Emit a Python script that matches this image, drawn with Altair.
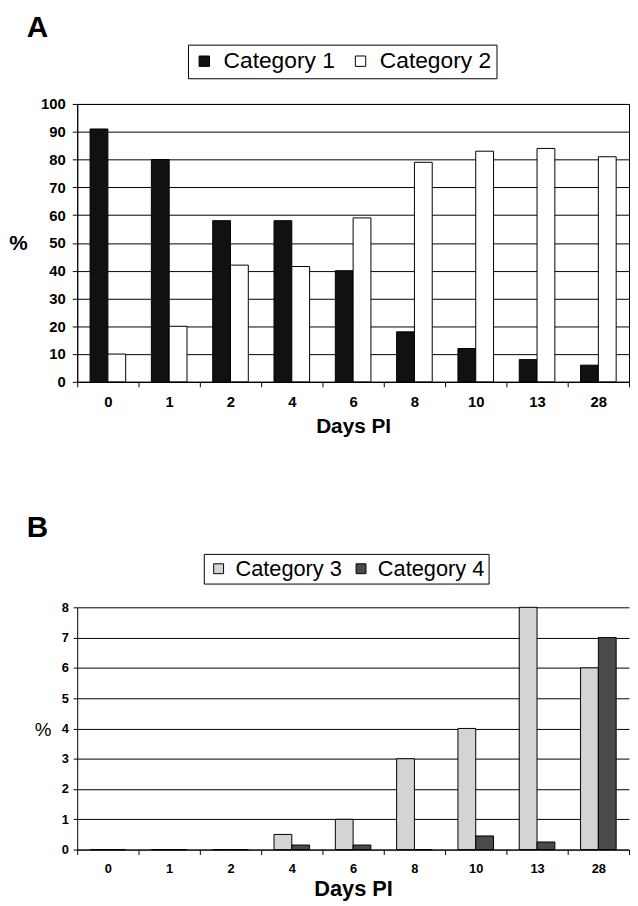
import altair as alt
import pandas as pd

# ---------------- data ----------------
days = ["0", "1", "2", "4", "6", "8", "10", "13", "28"]
series_a = ["Category 1", "Category 2"]
cat1 = [91, 80, 58, 58, 40, 18, 12, 8, 6]
cat2 = [10, 20, 42, 41.5, 59, 79, 83, 84, 81]
series_b = ["Category 3", "Category 4"]
cat3 = [0, 0, 0, 0.5, 1, 3, 4, 8, 6]
cat4 = [0, 0, 0, 0.15, 0.15, 0, 0.45, 0.25, 7]
ticks_a = list(range(0, 101, 10))
ticks_b = list(range(0, 9))

dfa = pd.DataFrame({
    "day": days * 2,
    "series": [series_a[0]] * len(days) + [series_a[1]] * len(days),
    "value": cat1 + cat2,
})
dfb = pd.DataFrame({
    "day": days * 2,
    "series": [series_b[0]] * len(days) + [series_b[1]] * len(days),
    "value": cat3 + cat4,
})

FONT = "Liberation Sans"
W = 558

# ---------------- panel A ----------------
a = alt.Chart(dfa).mark_bar(stroke="black", strokeWidth=1).encode(
    x=alt.X("day:N", sort=days,
            scale=alt.Scale(paddingInner=0, paddingOuter=0),
            axis=alt.Axis(title="Days PI", labelAngle=0, tickBand="extent", grid=False,
                          domainColor="black", tickColor="black", tickSize=5,
                          labelFont=FONT, labelFontSize=15, labelFontWeight="bold",
                          labelColor="black", labelPadding=8,
                          titleFont=FONT, titleFontSize=21, titleFontWeight="bold",
                          titleColor="black", titlePadding=6)),
    xOffset=alt.XOffset("series:N", sort=series_a,
                        scale=alt.Scale(paddingInner=0, paddingOuter=0.722)),
    y=alt.Y("value:Q", scale=alt.Scale(domain=[0, 100]),
            axis=alt.Axis(values=ticks_a, title="%", titleAngle=0, titleX=-60, titleY=141,
                          titleAlign="center", titleBaseline="middle",
                          titleFont=FONT, titleFontSize=21, titleFontWeight="bold",
                          titleColor="black",
                          grid=True, gridColor="black", gridOpacity=1, gridWidth=1,
                          domainColor="black", tickColor="black", tickSize=5,
                          labelFont=FONT, labelFontSize=15, labelFontWeight="bold",
                          labelColor="black", labelPadding=7)),
    fill=alt.Fill("series:N", sort=series_a,
                  scale=alt.Scale(domain=series_a, range=["#111111", "#ffffff"]),
                  legend=alt.Legend(title=None, orient="none", legendX=112, legendY=-60,
                                    direction="horizontal", columns=2,
                                    strokeColor="black", padding=5,
                                    symbolType="square", symbolSize=110,
                                    symbolStrokeColor="black", symbolStrokeWidth=1,
                                    labelFont=FONT, labelFontSize=23, labelColor="black",
                                    labelOffset=8, columnPadding=14)),
).properties(
    width=W, height=281,
    title=alt.TitleParams(text="A", anchor="start", frame="group", dx=-51, offset=1,
                          fontSize=30, fontWeight="bold", font=FONT, color="black"),
    view=alt.ViewBackground(stroke="black", strokeWidth=1),
)

# ---------------- panel B ----------------
b = alt.Chart(dfb).mark_bar(stroke="black", strokeWidth=1).encode(
    x=alt.X("day:N", sort=days,
            scale=alt.Scale(paddingInner=0, paddingOuter=0),
            axis=alt.Axis(title="Days PI", labelAngle=0, tickBand="extent", grid=False,
                          domainColor="black", tickColor="black", tickSize=5,
                          labelFont=FONT, labelFontSize=13, labelFontWeight="bold",
                          labelColor="black", labelPadding=8,
                          titleFont=FONT, titleFontSize=22, titleFontWeight="bold",
                          titleColor="black", titlePadding=3)),
    xOffset=alt.XOffset("series:N", sort=series_b,
                        scale=alt.Scale(paddingInner=0, paddingOuter=0.722)),
    y=alt.Y("value:Q", scale=alt.Scale(domain=[0, 8]),
            axis=alt.Axis(values=ticks_b, title="%", titleAngle=0, titleX=-35, titleY=124,
                          titleAlign="center", titleBaseline="middle",
                          titleFont=FONT, titleFontSize=19, titleFontWeight="normal",
                          titleColor="black",
                          grid=True, gridColor="black", gridOpacity=1, gridWidth=1,
                          domainColor="black", tickColor="black", tickSize=4,
                          labelFont=FONT, labelFontSize=13, labelFontWeight="bold",
                          labelColor="black", labelPadding=5)),
    fill=alt.Fill("series:N", sort=series_b,
                  scale=alt.Scale(domain=series_b, range=["#d4d4d4", "#4a4a4a"]),
                  legend=alt.Legend(title=None, orient="none", legendX=128, legendY=-54,
                                    direction="horizontal", columns=2,
                                    strokeColor="black", padding=4,
                                    symbolType="square", symbolSize=100,
                                    symbolStrokeColor="black", symbolStrokeWidth=1,
                                    labelFont=FONT, labelFontSize=22, labelColor="black",
                                    labelOffset=6, columnPadding=8)),
).properties(
    width=W, height=245,
    title=alt.TitleParams(text="B", anchor="start", frame="group", dx=-51, offset=11,
                          fontSize=30, fontWeight="bold", font=FONT, color="black"),
    view=alt.ViewBackground(stroke="transparent"),
)

chart = alt.vconcat(a, b, spacing=76).resolve_scale(
    x="independent", y="independent", fill="independent", xOffset="independent"
).resolve_legend(fill="independent").properties(
    padding=0, background="white"
)

chart.save("out.html", embed_options={"renderer": "svg", "actions": False})
